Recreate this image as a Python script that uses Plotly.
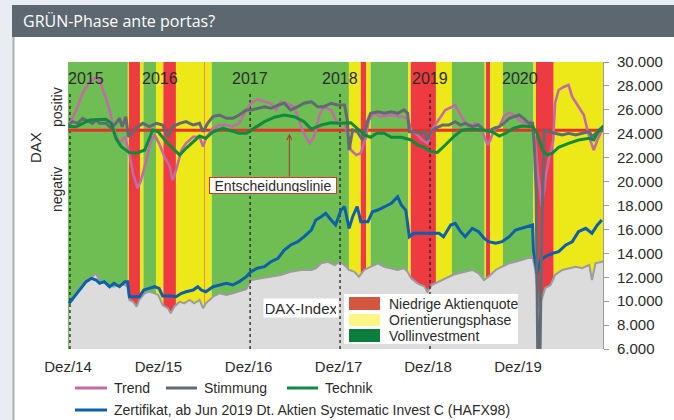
import plotly.graph_objects as go
from datetime import datetime, timedelta

# ---------------- data (decimal year, index points) ----------------
dax = [(2014.99, 9820), (2015.03, 10100), (2015.11, 11210), (2015.18, 11770), (2015.25, 12050), (2015.29, 12330),
       (2015.33, 11630), (2015.40, 11490), (2015.48, 11210), (2015.55, 11350), (2015.61, 11350), (2015.64, 11210),
       (2015.66, 10100), (2015.70, 9960), (2015.74, 9540), (2015.77, 10100), (2015.83, 10660), (2015.88, 10790),
       (2015.94, 10660), (2015.98, 10520), (2016.03, 9680), (2016.09, 9400), (2016.12, 8990), (2016.16, 9540),
       (2016.22, 9960), (2016.27, 9820), (2016.33, 10100), (2016.38, 9820), (2016.44, 10100), (2016.48, 9400),
       (2016.51, 9820), (2016.59, 10370), (2016.66, 10660), (2016.74, 10520), (2016.81, 10660), (2016.88, 10790),
       (2016.96, 11000), (2017.01, 11770), (2017.12, 11910), (2017.23, 12050), (2017.34, 12190), (2017.45, 12460),
       (2017.57, 12610), (2017.68, 12610), (2017.73, 12750), (2017.79, 13170), (2017.86, 13300), (2017.94, 13020),
       (2017.99, 13300), (2018.05, 13020), (2018.10, 12610), (2018.16, 12460), (2018.21, 12050), (2018.27, 12610),
       (2018.34, 12880), (2018.42, 13170), (2018.49, 12880), (2018.57, 12750), (2018.64, 12610), (2018.71, 12750),
       (2018.75, 12460), (2018.79, 11910), (2018.86, 11490), (2018.94, 11210), (2018.97, 10790), (2019.02, 11350),
       (2019.10, 11630), (2019.17, 11910), (2019.25, 12190), (2019.32, 12330), (2019.39, 12460), (2019.47, 12610),
       (2019.54, 12330), (2019.60, 11770), (2019.65, 12050), (2019.73, 12610), (2019.80, 12880), (2019.88, 13170),
       (2019.95, 13300), (2020.02, 13440), (2020.10, 13590), (2020.14, 13720), (2020.17, 12610), (2020.19, 10930),
       (2020.21, 9400), (2020.24, 10100), (2020.28, 11080), (2020.34, 11350), (2020.39, 12190), (2020.47, 12610),
       (2020.54, 12750), (2020.62, 12880), (2020.69, 12750), (2020.77, 13020), (2020.80, 11770), (2020.84, 13170),
       (2020.91, 13300), (2020.93, 13350)]

zertifikat = [(2014.99, 9820), (2015.05, 10370), (2015.11, 10930), (2015.18, 11630), (2015.24, 11910), (2015.29, 11770),
              (2015.33, 11490), (2015.38, 11630), (2015.44, 11210), (2015.49, 11490), (2015.55, 11210), (2015.61, 11630),
              (2015.64, 11630), (2015.66, 10370), (2015.77, 10370), (2015.82, 10930), (2015.88, 11070), (2015.94, 11210),
              (2015.99, 11070), (2016.03, 10430), (2016.14, 10430), (2016.18, 10370), (2016.24, 10660), (2016.29, 10790),
              (2016.37, 10930), (2016.42, 11210), (2016.46, 10930), (2016.51, 10790), (2016.59, 11210), (2016.66, 11350),
              (2016.74, 11490), (2016.81, 11350), (2016.88, 11630), (2016.96, 12050), (2017.01, 12460), (2017.08, 12750),
              (2017.16, 12890), (2017.23, 13300), (2017.31, 13590), (2017.38, 14280), (2017.45, 14700), (2017.53, 14970),
              (2017.60, 15390), (2017.68, 15950), (2017.73, 16790), (2017.79, 17060), (2017.84, 17350), (2017.90, 16790),
              (2017.95, 16370), (2018.01, 17620), (2018.05, 17900), (2018.10, 16090), (2018.14, 17060), (2018.19, 17900),
              (2018.23, 16650), (2018.31, 16650), (2018.36, 17480), (2018.42, 17620), (2018.49, 17900), (2018.57, 18180),
              (2018.64, 18740), (2018.68, 18040), (2018.73, 17620), (2018.77, 15390), (2018.82, 15680), (2019.10, 15680),
              (2019.15, 15390), (2019.23, 16370), (2019.28, 16510), (2019.34, 15810), (2019.39, 15390), (2019.47, 16090),
              (2019.54, 15810), (2019.60, 15260), (2019.65, 14970), (2019.73, 14840), (2019.80, 14970), (2019.88, 15390),
              (2019.95, 15950), (2020.02, 16090), (2020.10, 16230), (2020.14, 16370), (2020.15, 14280), (2020.19, 12330),
              (2020.23, 13440), (2020.28, 13720), (2020.36, 14000), (2020.43, 14140), (2020.51, 14700), (2020.58, 14970),
              (2020.65, 15810), (2020.73, 16090), (2020.80, 15680), (2020.86, 16370), (2020.91, 16790)]

trend = [(2014.98, 24590), (2015.07, 25990), (2015.14, 27380), (2015.22, 28350), (2015.27, 28640), (2015.33, 28500),
         (2015.38, 27380), (2015.44, 25990), (2015.49, 24310), (2015.55, 23200), (2015.61, 23750), (2015.66, 22370),
         (2015.70, 20690), (2015.75, 19440), (2015.79, 20130), (2015.85, 21810), (2015.90, 23480), (2015.94, 23900),
         (2015.99, 23200), (2016.05, 22080), (2016.11, 21250), (2016.14, 20130), (2016.18, 20970), (2016.24, 22640),
         (2016.29, 23200), (2016.37, 23750), (2016.44, 23750), (2016.48, 22920), (2016.51, 23620), (2016.59, 24460),
         (2016.66, 24730), (2016.74, 24730), (2016.81, 24590), (2016.88, 24870), (2016.96, 25990), (2017.01, 26550),
         (2017.08, 26880), (2017.16, 26680), (2017.23, 26550), (2017.29, 25990), (2017.34, 26680), (2017.40, 26550),
         (2017.49, 26260), (2017.53, 25430), (2017.58, 24310), (2017.66, 23200), (2017.71, 23750), (2017.77, 25570),
         (2017.82, 26260), (2017.90, 25990), (2017.97, 24870), (2018.05, 24870), (2018.08, 24040), (2018.12, 22640),
         (2018.18, 22220), (2018.23, 22370), (2018.29, 23750), (2018.32, 25150), (2018.38, 25710), (2018.45, 25430),
         (2018.57, 25570), (2018.68, 25430), (2018.75, 25290), (2018.79, 24310), (2018.86, 23900), (2018.91, 23480),
         (2018.97, 23200), (2019.02, 24310), (2019.10, 25150), (2019.17, 25990), (2019.25, 26260), (2019.28, 26400),
         (2019.32, 25840), (2019.36, 25290), (2019.43, 24590), (2019.51, 24870), (2019.56, 24590), (2019.60, 23750),
         (2019.64, 23060), (2019.67, 23480), (2019.71, 24310), (2019.77, 24590), (2019.82, 25430), (2019.88, 25760),
         (2019.93, 25570), (2019.99, 25150), (2020.06, 24870), (2020.12, 25010), (2020.15, 24590), (2020.18, 22640),
         (2020.20, 20690), (2020.23, 18880), (2020.24, 17900), (2020.27, 19300), (2020.29, 20550), (2020.32, 21810),
         (2020.37, 23480), (2020.39, 26550), (2020.43, 27660), (2020.49, 27930), (2020.54, 28080), (2020.58, 27100),
         (2020.65, 26260), (2020.71, 25570), (2020.75, 24310), (2020.78, 23480), (2020.82, 22640), (2020.86, 23480),
         (2020.91, 24310)]

stimmung = [(2014.98, 24730), (2015.03, 25010), (2015.09, 24870), (2015.14, 25290), (2015.18, 25150), (2015.25, 24870),
            (2015.29, 25150), (2015.33, 24870), (2015.40, 24870), (2015.46, 24460), (2015.51, 24870), (2015.55, 25290),
            (2015.58, 24590), (2015.62, 25430), (2015.65, 23750), (2015.70, 24170), (2015.75, 24590), (2015.81, 24870),
            (2015.88, 24590), (2015.96, 24870), (2016.03, 24730), (2016.09, 23750), (2016.14, 24590), (2016.22, 24870),
            (2016.29, 25010), (2016.37, 24730), (2016.44, 24870), (2016.48, 24170), (2016.53, 24870), (2016.59, 25430),
            (2016.66, 25570), (2016.74, 25290), (2016.81, 25290), (2016.88, 25570), (2016.96, 25990), (2017.01, 25990),
            (2017.08, 26130), (2017.16, 26260), (2017.23, 26130), (2017.31, 26400), (2017.38, 26550), (2017.45, 25990),
            (2017.53, 26260), (2017.60, 26550), (2017.68, 26680), (2017.75, 26260), (2017.82, 26260), (2017.90, 26550),
            (2017.97, 26400), (2018.05, 26400), (2018.08, 25150), (2018.10, 22640), (2018.14, 24310), (2018.19, 24170),
            (2018.25, 23480), (2018.31, 25150), (2018.34, 25710), (2018.42, 25840), (2018.49, 25710), (2018.57, 25840),
            (2018.64, 25710), (2018.71, 25990), (2018.75, 25710), (2018.77, 24170), (2018.82, 24170), (2018.90, 24040),
            (2018.94, 24170), (2018.97, 23480), (2019.01, 24170), (2019.06, 24460), (2019.14, 24730), (2019.21, 24730),
            (2019.28, 25010), (2019.34, 24730), (2019.39, 24870), (2019.47, 24590), (2019.54, 24730), (2019.60, 24310),
            (2019.65, 24170), (2019.71, 24460), (2019.77, 24590), (2019.82, 24870), (2019.88, 25290), (2019.93, 25430),
            (2019.99, 25570), (2020.04, 25290), (2020.10, 24870), (2020.14, 24870), (2020.16, 22920), (2020.18, 19050),
            (2020.20, 4000), (2020.22, 4000), (2020.24, 15000), (2020.27, 24310), (2020.32, 24170), (2020.39, 24040),
            (2020.47, 23900), (2020.54, 24040), (2020.62, 23900), (2020.69, 24040), (2020.77, 24170), (2020.80, 23750),
            (2020.86, 24170), (2020.92, 24310)]

technik = [(2014.98, 24600), (2015.07, 24590), (2015.22, 25150), (2015.40, 25210), (2015.46, 24870), (2015.51, 23620),
           (2015.57, 22920), (2015.66, 22420), (2015.74, 22370), (2015.83, 22640), (2015.92, 24310), (2015.98, 24170),
           (2016.07, 23340), (2016.14, 22780), (2016.22, 22220), (2016.29, 22780), (2016.37, 23340), (2016.44, 23810),
           (2016.51, 23620), (2016.59, 24170), (2016.70, 24460), (2016.81, 24170), (2016.88, 24040), (2016.96, 24040),
           (2017.05, 24460), (2017.16, 25010), (2017.27, 25380), (2017.38, 25570), (2017.49, 25430), (2017.60, 25010),
           (2017.68, 24380), (2017.79, 24730), (2017.90, 24920), (2018.01, 24870), (2018.12, 24920), (2018.19, 24460),
           (2018.27, 23900), (2018.34, 23710), (2018.41, 24040), (2018.49, 24040), (2018.57, 23710), (2018.68, 23710),
           (2018.79, 23480), (2018.86, 23060), (2018.94, 22870), (2018.99, 22580), (2019.08, 22420), (2019.17, 23060),
           (2019.27, 23810), (2019.36, 24310), (2019.47, 24370), (2019.58, 24310), (2019.69, 24170), (2019.77, 23810),
           (2019.84, 24040), (2019.93, 24460), (2020.02, 24650), (2020.14, 24590), (2020.19, 24040), (2020.25, 22640),
           (2020.30, 22220), (2020.36, 22370), (2020.43, 22870), (2020.54, 23200), (2020.65, 23480), (2020.77, 23620),
           (2020.82, 23480), (2020.88, 24310), (2020.93, 24650)]

entscheidungslinie = 24300

# phases: start, end, type (R = Niedrige Aktienquote, Y = Orientierungsphase, G = Vollinvestment)
phasen = [("2014-12-01", "2015-08-24", "G"), ("2015-08-24", "2015-08-28", "Y"), ("2015-08-28", "2015-10-12", "R"),
          ("2015-10-12", "2015-10-26", "Y"), ("2015-10-26", "2015-12-16", "G"), ("2015-12-16", "2016-01-15", "Y"),
          ("2016-01-15", "2016-03-06", "R"), ("2016-03-06", "2016-06-28", "Y"), ("2016-06-28", "2016-07-01", "R"),
          ("2016-07-01", "2016-07-29", "Y"), ("2016-07-29", "2018-02-06", "G"), ("2018-02-06", "2018-03-26", "Y"),
          ("2018-03-26", "2018-04-17", "R"), ("2018-04-17", "2018-05-05", "Y"), ("2018-05-05", "2018-10-05", "G"),
          ("2018-10-05", "2018-10-15", "Y"), ("2018-10-15", "2019-01-25", "R"), ("2019-01-25", "2019-03-31", "Y"),
          ("2019-03-31", "2019-08-11", "G"), ("2019-08-11", "2019-08-16", "Y"), ("2019-08-16", "2019-09-02", "R"),
          ("2019-09-02", "2019-10-24", "Y"), ("2019-10-24", "2020-02-25", "G"), ("2020-02-25", "2020-03-06", "Y"),
          ("2020-03-06", "2020-05-17", "R"), ("2020-05-17", "2021-01-31", "Y")]

year_labels = ["2015", "2016", "2017", "2018", "2019", "2020"]
year_label_dates = ["2015-03-07", "2016-01-01", "2017-01-01", "2018-01-01", "2019-01-01", "2020-01-01"]
year_lines = ["2015-01-01", "2017-01-01", "2018-01-01", "2019-01-01"]

x_tick_dates = ["2014-12-24", "2015-12-26", "2016-12-26", "2017-12-26", "2018-12-24", "2019-12-24"]
x_tick_text = ["Dez/14", "Dez/15", "Dez/16", "Dez/17", "Dez/18", "Dez/19"]
y_tick_vals = [6000, 8000, 10000, 12000, 14000, 16000, 18000, 20000, 22000, 24000, 26000, 28000, 30000]
y_tick_text = ["6.000", "8.000", "10.000", "12.000", "14.000", "16.000", "18.000", "20.000",
               "22.000", "24.000", "26.000", "28.000", "30.000"]

# ---------------- helpers ----------------
def to_date(y):
    yr = int(y)
    return datetime(yr, 1, 1) + timedelta(days=(y - yr) * 365.25)

def series(pairs):
    return [to_date(t) for t, _ in pairs], [v for _, v in pairs]

W, H = 674, 420
L, R, T, B = 68, 603, 62, 349   # plot area in pixels

def px(x):
    return (x - L) / (R - L)

def py(y):
    return (B - y) / (B - T)

FONT = "Liberation Sans, Arial, Helvetica, sans-serif"
TXT = "#2b2b2b"
band_col = {"G": "#6fbe54", "Y": "#ede817", "R": "#ee3a41"}
leg_col = {"R": "#d3573e", "Y": "#fdf586", "G": "#0b7d3c"}
C_TREND, C_STIM, C_TECH, C_ZERT, C_RED = "#c46aa6", "#626a73", "#108a3e", "#0b5fab", "#e8302b"

fig = go.Figure()

# DAX index area
xd, yd = series(dax)
fig.add_trace(go.Scatter(x=xd, y=yd, mode="lines", fill="tozeroy", fillcolor="#dcdcdc",
                         line=dict(color="#9c9c9c", width=2), showlegend=False, hoverinfo="skip"))

# dotted year separators
for d in year_lines:
    fig.add_trace(go.Scatter(x=[d, d], y=[5000, 27500], mode="lines",
                             line=dict(color="#222", width=1.3, dash="dot"), showlegend=False, hoverinfo="skip"))

# Zertifikat
xz, yz = series(zertifikat)
fig.add_trace(go.Scatter(x=xz, y=yz, mode="lines", line=dict(color=C_ZERT, width=3), showlegend=False))

# decision line
fig.add_trace(go.Scatter(x=["2014-12-01", "2021-01-31"], y=[entscheidungslinie] * 2, mode="lines",
                         line=dict(color=C_RED, width=3), showlegend=False))

for pairs, col, w in [(trend, C_TREND, 2.6), (stimmung, C_STIM, 3), (technik, C_TECH, 3)]:
    xs, ys = series(pairs)
    fig.add_trace(go.Scatter(x=xs, y=ys, mode="lines", line=dict(color=col, width=w), showlegend=False))

shapes = []
# page decoration: white panel, left border, title bar
shapes.append(dict(type="rect", xref="paper", yref="paper", x0=px(14), x1=px(W + 5), y0=py(H + 5), y1=py(5),
                   fillcolor="white", line=dict(width=0), layer="below"))
shapes.append(dict(type="line", xref="paper", yref="paper", x0=px(13.5), x1=px(13.5), y0=py(H + 5), y1=py(5),
                   line=dict(color="#a9b0b8", width=2), layer="below"))
shapes.append(dict(type="rect", xref="paper", yref="paper", x0=px(12), x1=px(W + 5), y0=py(37), y1=py(5),
                   fillcolor="#5c6770", line=dict(width=0), layer="below"))
# phase bands
for a, b, k in phasen:
    shapes.append(dict(type="rect", xref="x", yref="paper", x0=a, x1=b, y0=0, y1=1,
                       fillcolor=band_col[k], line=dict(width=0), layer="below"))

# phase legend box
shapes.append(dict(type="rect", xref="paper", yref="paper", x0=px(344), x1=px(518), y0=py(344), y1=py(294),
                   fillcolor="white", line=dict(width=0), layer="above"))
leg_rows = [("R", "Niedrige Aktienquote", 297, 310), ("Y", "Orientierungsphase", 314, 326),
            ("G", "Vollinvestment", 329, 342)]
annotations = []
for k, label, y0, y1 in leg_rows:
    shapes.append(dict(type="rect", xref="paper", yref="paper", x0=px(349), x1=px(380), y0=py(y1), y1=py(y0),
                       fillcolor=leg_col[k], line=dict(width=0), layer="above"))
    annotations.append(dict(xref="paper", yref="paper", x=px(387), y=py((y0 + y1) / 2), text=label,
                            showarrow=False, xanchor="left", yanchor="middle",
                            font=dict(family=FONT, size=14, color=TXT)))

# bottom line legend
line_leg = [(C_TREND, "Trend", 75, 107, 388), (C_STIM, "Stimmung", 166, 197, 388), (C_TECH, "Technik", 287, 318, 388),
            (C_ZERT, "Zertifikat, ab Jun 2019 Dt. Aktien Systematic Invest C (HAFX98)", 75, 107, 410)]
for col, label, x0, x1, yy in line_leg:
    shapes.append(dict(type="line", xref="paper", yref="paper", x0=px(x0), x1=px(x1), y0=py(yy), y1=py(yy),
                       line=dict(color=col, width=3)))
    annotations.append(dict(xref="paper", yref="paper", x=px(x1 + 5), y=py(yy), text=label, showarrow=False,
                            xanchor="left", yanchor="middle", font=dict(family=FONT, size=14, color=TXT)))

# title
annotations.append(dict(xref="paper", yref="paper", x=px(21), y=py(21), text="GRÜN-Phase ante portas?",
                        showarrow=False, xanchor="left", yanchor="middle",
                        font=dict(family="Open Sans, sans-serif", size=16, color="white")))
# year labels
for lab, d in zip(year_labels, year_label_dates):
    annotations.append(dict(xref="x", yref="paper", x=d, y=py(78), text=lab, showarrow=False,
                            xanchor="center", yanchor="middle", font=dict(family=FONT, size=16, color=TXT)))
# side labels
for txt, xx, yy, sz in [("DAX", 35, 148, 15), ("positiv", 57, 107, 14), ("negativ", 57, 190, 14)]:
    annotations.append(dict(xref="paper", yref="paper", x=px(xx), y=py(yy), text=txt, textangle=-90,
                            xanchor="center", yanchor="middle", showarrow=False,
                            font=dict(family=FONT, size=sz, color=TXT)))
# decision line annotation
annotations.append(dict(xref="x", yref="y", x=to_date(2017.436), y=24000, axref="x", ayref="y",
                        ax=to_date(2017.436), ay=20300, text="", showarrow=True, arrowhead=5, arrowsize=1,
                        arrowwidth=1, arrowcolor="#b5332a"))
annotations.append(dict(xref="paper", yref="paper", x=px(273), y=py(185.5), text="Entscheidungslinie",
                        showarrow=False, bgcolor="white", bordercolor="#d9352c", borderwidth=1, borderpad=1,
                        width=124, height=13, font=dict(family=FONT, size=14, color=TXT)))
annotations.append(dict(xref="paper", yref="paper", x=px(301), y=py(318), text="DAX-Index",
                        showarrow=False, bgcolor="white", borderpad=2, width=70, height=14,
                        font=dict(family=FONT, size=15, color=TXT)))

fig.update_layout(
    width=W, height=H, autosize=False,
    margin=dict(l=L, r=W - R, t=T, b=H - B, pad=0),
    paper_bgcolor="#e8ecf3", plot_bgcolor="#6fbe54",
    shapes=shapes, annotations=annotations, showlegend=False,
    xaxis=dict(type="date", range=["2014-12-24", "2020-12-03"], showgrid=False, zeroline=False,
               tickvals=x_tick_dates, ticktext=x_tick_text, ticks="", showline=False, ticklabelstandoff=7,
               tickfont=dict(family=FONT, size=15, color=TXT)),
    yaxis=dict(side="right", range=[6000, 30000], showgrid=False, zeroline=False, showline=True,
               linecolor="#9a9a9a", linewidth=1, ticks="outside", ticklen=5, tickcolor="#9a9a9a",
               ticklabelstandoff=5,
               tickvals=y_tick_vals, ticktext=y_tick_text, tickfont=dict(family=FONT, size=15, color=TXT)),
)

fig.write_html("out.html", config={"displayModeBar": False},
               post_script="document.body.style.margin='0';document.body.style.padding='0';")
